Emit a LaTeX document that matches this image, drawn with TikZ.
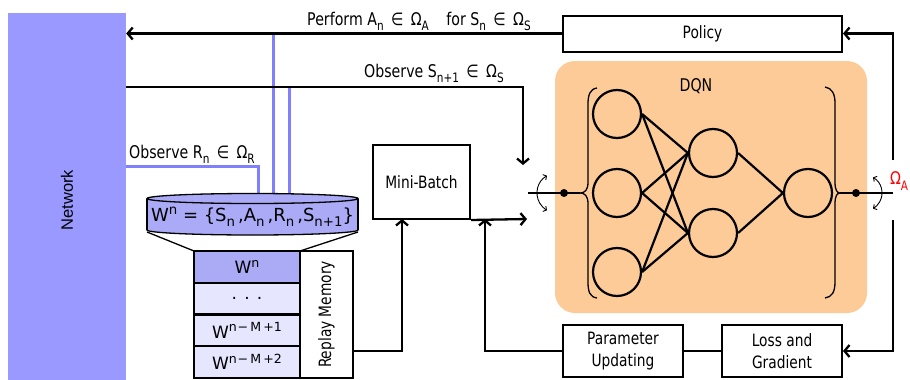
\documentclass[tikz,border=0pt]{standalone}
\usepackage{graphicx}
\usepackage{fontspec}
\setmainfont{DejaVu Sans}
\newfontfamily\narrowfont{DejaVu Sans}[FakeStretch=0.81]
\newfontfamily\netfont{Liberation Sans}
\usetikzlibrary{arrows.meta}

\definecolor{netblue}{HTML}{9999FF}
\definecolor{wireblue}{HTML}{8080FF}
\definecolor{cylblue}{HTML}{AAAAF7}
\definecolor{rowdark}{HTML}{AAAAF5}
\definecolor{rowlight}{HTML}{E6E6FF}
\definecolor{dqnfill}{HTML}{FDCB98}

\newcommand\sub[1]{\raisebox{-0.3em}{\scalebox{0.74}{#1}}}
\newcommand\supx[1]{\raisebox{0.36em}{\scalebox{0.74}{#1}}}

\begin{document}
\begin{tikzpicture}[x=1pt,y=-1pt,
  lbl/.style={font=\narrowfont\fontsize{17.5}{20}\selectfont, inner sep=0pt},
  boxtxt/.style={font=\narrowfont\fontsize{17}{22}\selectfont},
  box/.style={draw, line width=2pt, fill=white, inner sep=0pt, align=center, boxtxt},
  row/.style={draw, line width=2pt, inner sep=0pt, minimum width=106, minimum height=31.75,
    font=\fontsize{17}{20}\selectfont},
  conn/.style={line width=2.3pt},
  arr/.style={conn, -{Straight Barb[length=5pt,width=12pt]}},
  wire/.style={wireblue, line width=3pt},
  neuron/.style={circle, draw, line width=2.2pt, minimum size=48, inner sep=0pt},
  edge/.style={line width=2.2pt},
  bracel/.style={line width=1.3pt},
  rot/.style={line width=0.9pt, {Straight Barb[length=2.5pt,width=6pt]}-{Straight Barb[length=2.5pt,width=6pt]}},
  dot/.style={circle, fill=black, minimum size=8, inner sep=0pt}
]
\useasboundingbox (0,0) rectangle (910,380);

% environment block
\node[fill=netblue, minimum width=118, minimum height=367, inner sep=0pt] (net) at (67,196.5) {};
\node[font=\netfont\fontsize{16.5}{18}\selectfont, rotate=90] (netlbl) at (67,200) {Network};

% DQN panel
\node[fill=dqnfill, rounded corners=20pt, minimum width=312, minimum height=252, inner sep=0pt] (dqn) at (711,187) {};
\node[lbl] (dqnlbl) at (696,86) {DQN};

% boxes
\node[box, minimum width=279, minimum height=36] (policy) at (702.5,33.5) {Policy};
\node[box, minimum width=97, minimum height=74] (mb) at (421.5,182) {Mini-Batch};
\node[box, minimum width=120, minimum height=52] (pu) at (623,351) {Parameter\\Updating};
\node[box, minimum width=120, minimum height=52] (loss) at (782,351) {Loss and\\Gradient};

% blue observation wires into the transition record
\coordinate (wa) at (273,34);
\coordinate (wb) at (289,87);
\coordinate (wr) at (126,166);
\draw[wire] (wa) -- (273,194);
\draw[wire] (wb) -- (289,194);
\draw[wire] (wr) -- (258,166) -- (258,194);

% transition record (cylinder)
\draw[line width=1.3pt, fill=cylblue] (252.5,230) ellipse [x radius=105.5pt, y radius=5pt];
\fill[cylblue] (147,198.5) rectangle (358,230);
\draw[line width=1.3pt] (147,198.5) -- (147,230) (358,198.5) -- (358,230);
\draw[line width=1.3pt, fill=cylblue] (252.5,198.5) ellipse [x radius=105.5pt, y radius=5pt];
\node[font=\fontsize{18}{20}\selectfont, inner sep=0pt] (cyltxt) at (252.5,217)
  {W\supx{n} = \{S\sub{n}\,,A\sub{n}\,,R\sub{n}\,,S\sub{n+1}\}};

% funnel into memory
\draw[line width=1.3pt] (147,232) -- (194,251);
\draw[line width=1.3pt] (358,232) -- (300,251);

% replay memory table
\node[row, fill=rowdark] (r1) at (247,266.9) {W\supx{n}};
\node[row, fill=rowlight] (r2) at (247,298.6) {. . .};
\node[row, fill=rowlight] (r3) at (247,330.4) {W\supx{n\kern1pt−\kern3pt M\kern3pt +1}};
\node[row, fill=rowlight] (r4) at (247,362.1) {W\supx{n\kern1pt−\kern3pt M\kern3pt +2}};
\node[box, minimum width=127, minimum height=53, rotate=90] (rm) at (326.5,314.5) {Replay Memory};

% neural network
\node[neuron] (i1) at (617,114) {};
\node[neuron] (i2) at (617,193) {};
\node[neuron] (i3) at (617,272) {};
\node[neuron] (h1) at (713,153) {};
\node[neuron] (h2) at (713,233) {};
\node[neuron] (o1) at (808,193) {};
\foreach \a in {i1,i2,i3} \foreach \b in {h1,h2} \draw[edge] (\a.east) -- (\b.west);
\draw[edge] (h1.east) -- (o1.west);
\draw[edge] (h2.east) -- (o1.west);

% brackets around the network
\coordinate (lcusp) at (580,193);
\coordinate (rcusp) at (840,193);
\draw[bracel] (597,88) .. controls (590,89) and (588,95) .. (588,104) -- (588,182)
  .. controls (588,190) and (585,193) .. (lcusp)
  .. controls (585,193) and (588,196) .. (588,204) -- (588,282)
  .. controls (588,292) and (590,297) .. (597,298);
\draw[bracel] (825,87) .. controls (832,88) and (835,94) .. (835,103) -- (835,182)
  .. controls (835,190) and (837,193) .. (rcusp)
  .. controls (837,193) and (835,196) .. (835,204) -- (835,282)
  .. controls (835,292) and (832,297) .. (825,298);

% input / output taps
\coordinate (inl) at (528,193);
\coordinate (outr) at (893,193);
\draw[conn] (inl) -- (lcusp);
\draw[conn] (rcusp) -- (outr);
\node[dot] (ldot) at (564,193) {};
\node[dot] (rdot) at (856,193) {};
\draw[rot] (547,175.7) arc[start angle=120, end angle=240, radius=20pt];
\draw[rot] (873,177.4) arc[start angle=60, end angle=-60, radius=18pt];
\node[lbl, text=red] (omega) at (899,181) {Ω\sub{A}};

% control and data flow
\coordinate (gtop) at (893,160);
\coordinate (gbot) at (893,220);
\coordinate (netS) at (126,87);
\coordinate (obsS) at (523,165);
\coordinate (rmout) at (353,351);
\coordinate (mbin) at (402,219);
\coordinate (dqnin) at (527,219);
\coordinate (upin) at (485,219);
\draw[arr] (policy.west) -- (policy.west -| net.east);
\draw[arr] (gtop) |- (policy.east);
\draw[arr] (gbot) |- (loss.east);
\draw[arr] (netS) -| (obsS);
\draw[arr] (rmout) -| (mbin);
\draw[arr] (mb.south east) -- (dqnin);
\draw[arr] (pu.west) -| (upin);
\draw[conn] (pu.east) -- (loss.west);

% flow labels
\node[lbl, anchor=base west] (lperf) at (307,25)
  {Perform A\sub{n} \,∈\, Ω\sub{A}\quad for S\sub{n} \,∈\, Ω\sub{S}};
\node[lbl, anchor=base west] (lobss) at (364,77) {Observe S\sub{n+1} \,∈\, Ω\sub{S}};
\node[lbl, anchor=base west] (lobsr) at (129,158) {Observe R\sub{n} \,∈\, Ω\sub{R}};
\end{tikzpicture}
\end{document}
